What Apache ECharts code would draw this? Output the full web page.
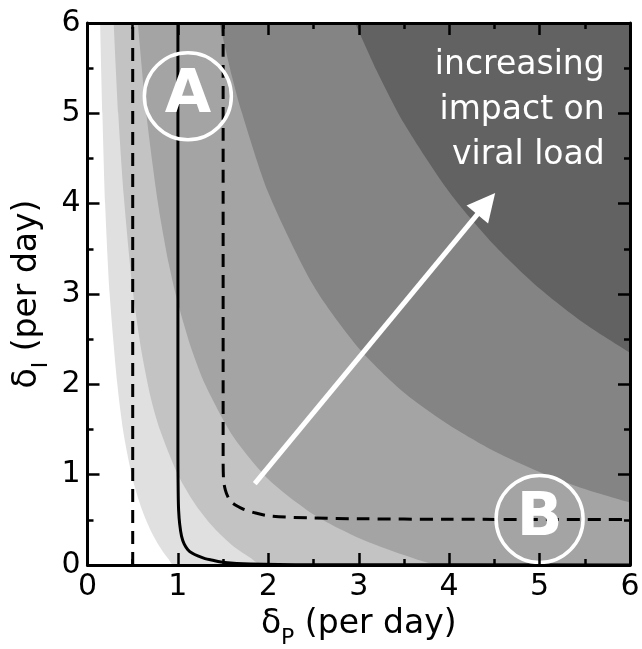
<!DOCTYPE html>
<html>
<head>
<meta charset="utf-8">
<script src="https://cdn.jsdelivr.net/npm/echarts@6/dist/echarts.min.js"></script>
<style>
html,body{margin:0;padding:0;background:#fff;}
#chart{width:642px;height:649px;}
</style>
</head>
<body>
<div id="chart"></div>
<script>
// ---- data ----
const xTickValues = [0, 1, 2, 3, 4, 5, 6];
const yTickValues = [0, 1, 2, 3, 4, 5, 6];

// shaded region boundaries (deltaP, deltaI); area above/right of each curve is darker
const boundary1 = [[0.14,6],[0.165,5],[0.195,4],[0.245,3],[0.33,2],[0.4,1.45],[0.5,0.95],[0.6,0.62],[0.7,0.38],[0.8,0.2],[0.9,0.06],[0.95,0],[6,0]];
const boundary2 = [[0.29,6],[0.34,5],[0.4,4.1],[0.5,3.05],[0.6,2.35],[0.7,1.85],[0.8,1.5],[1.0,1.0],[1.2,0.66],[1.4,0.41],[1.6,0.22],[1.8,0.08],[1.93,0],[6,0]];
const boundary3 = [[0.557,6],[0.65,5],[0.78,4],[0.9,3.33],[1.0,2.9],[1.15,2.39],[1.3,2.0],[1.6,1.44],[2.0,0.95],[2.5,0.56],[3.0,0.3],[3.5,0.11],[3.9,0],[6,0]];
const boundary4 = [[1.46,6],[1.6,5.4],[1.7,5.03],[2.0,4.12],[2.5,3.09],[3.0,2.4],[3.5,1.91],[4.0,1.55],[4.5,1.26],[5.0,1.03],[5.5,0.84],[6.0,0.69]];
const boundary5 = [[2.96,6],[3.2,5.47],[3.5,4.89],[4.0,4.13],[4.5,3.54],[5.0,3.06],[5.5,2.67],[6.0,2.35]];
const regionColors = ['#e0e0e0', '#c3c3c3', '#a4a4a4', '#848484', '#626262'];

// curves
const solidCurve = [[1.0,6],[1.0,1.2],[1.003,0.8],[1.008,0.6],[1.02,0.45],[1.04,0.32],[1.07,0.23],[1.11,0.17],[1.16,0.13],[1.22,0.1],[1.3,0.07],[1.37,0.055],[1.52,0.028],[1.8,0.012],[2.5,0.004],[6,0.001]];
const dashedCurve = [[1.5,6],[1.5,1.2],[1.505,0.94],[1.525,0.83],[1.56,0.74],[1.6,0.69],[1.66,0.65],[1.72,0.62],[1.86,0.575],[2.04,0.54],[2.5,0.52],[3.0,0.512],[4,0.506],[6,0.503]];
const dashedVertical = [[0.5,0],[0.5,6]];

// annotations
const circleA = [1.11, 5.19];
const circleB = [5.0, 0.51];
const arrowStart = [1.85, 0.9];
const arrowEnd = [4.41, 4.0];
const noteAnchor = [5.72, 5.03];
const noteText = 'increasing\nimpact on\nviral load';

const FONT = 'DejaVu Sans';

const chart = echarts.init(document.getElementById('chart'), null, {renderer: 'canvas'});

function axisCommon(pos, showLabel) {
  return {
    type: 'value', min: 0, max: 6, interval: 1, position: pos, z: 10,
    axisLine: {show: true, onZero: false, lineStyle: {color: '#000', width: 3}},
    axisTick: {show: true, inside: true, length: 12, lineStyle: {color: '#000', width: 2.5}},
    minorTick: {show: true, splitNumber: 2, length: 6, lineStyle: {color: '#000', width: 2.5}},
    splitLine: {show: false},
    minorSplitLine: {show: false},
    axisLabel: {show: showLabel, color: '#000', fontSize: 30, fontFamily: FONT, margin: 7},
    nameMoveOverlap: false
  };
}

const fills = [boundary1, boundary2, boundary3, boundary4, boundary5].map((b, i) => ({
  type: 'line', data: b, showSymbol: false, symbol: 'none', smooth: 0.25,
  lineStyle: {width: 0, opacity: 0},
  areaStyle: {origin: 'end', color: regionColors[i], opacity: 1},
  silent: true, z: 2
}));

const richName = {
  d: {fontSize: 33, fontFamily: FONT, color: '#000', lineHeight: 50},
  s: {fontSize: 22, fontFamily: FONT, color: '#000', lineHeight: 22, verticalAlign: 'bottom'}
};
const xMain = axisCommon('bottom', true);
xMain.name = '{d|δ}{s|P}{d| (per day)}';
xMain.nameLocation = 'middle';
xMain.nameGap = 34;
xMain.nameTextStyle = {rich: richName};
const yMain = axisCommon('left', true);
yMain.name = '{d|δ}{s|I}{d| (per day)}';
yMain.nameLocation = 'middle';
yMain.nameGap = 35;
yMain.nameTextStyle = {rich: richName};

function circleSeries(pt, letter) {
  return {
    type: 'scatter', data: [pt], symbol: 'circle', symbolSize: 87, silent: true, z: 4,
    itemStyle: {color: 'rgba(0,0,0,0)', borderColor: '#ffffff', borderWidth: 3.5, opacity: 1},
    label: {show: true, position: 'inside', formatter: letter, color: '#ffffff', fontSize: 60,
            fontWeight: 'bold', fontFamily: FONT, opacity: 1}
  };
}

const option = {
  animation: false,
  backgroundColor: '#fff',
  grid: {left: 87.5, right: 12, top: 23, bottom: 84, containLabel: false, outerBoundsMode: 'none'},
  xAxis: [xMain, axisCommon('top', false)],
  yAxis: [yMain, axisCommon('right', false)],
  series: fills.concat([
    {type: 'line', data: dashedVertical, showSymbol: false, symbol: 'none',
     lineStyle: {color: '#000', width: 3, type: [13, 8]}, silent: true, z: 3},
    {type: 'line', data: dashedCurve, showSymbol: false, symbol: 'none', smooth: 0.3,
     lineStyle: {color: '#000', width: 3, type: [13, 8]}, silent: true, z: 3},
    {type: 'line', data: solidCurve, showSymbol: false, symbol: 'none', smooth: 0.3,
     lineStyle: {color: '#000', width: 3}, silent: true, z: 3},
    circleSeries(circleA, 'A'),
    circleSeries(circleB, 'B'),
    {type: 'scatter', data: [noteAnchor], symbolSize: 0, silent: true, z: 4,
     itemStyle: {opacity: 1, color: 'rgba(0,0,0,0)'},
     label: {show: true, position: 'left', distance: 0, formatter: noteText, color: '#ffffff',
             fontSize: 33, lineHeight: 45, align: 'right', verticalAlign: 'middle', fontFamily: FONT, opacity: 1},
     markLine: {
       silent: true, animation: false,
       symbol: ['none', 'triangle'], symbolSize: 28,
       label: {show: false},
       itemStyle: {color: '#ffffff', opacity: 1},
       lineStyle: {color: '#ffffff', width: 5, type: 'solid', opacity: 1},
       emphasis: {disabled: true},
       data: [[{coord: arrowStart}, {coord: arrowEnd}]]
     }}
  ])
};
chart.setOption(option);
</script>
</body>
</html>
